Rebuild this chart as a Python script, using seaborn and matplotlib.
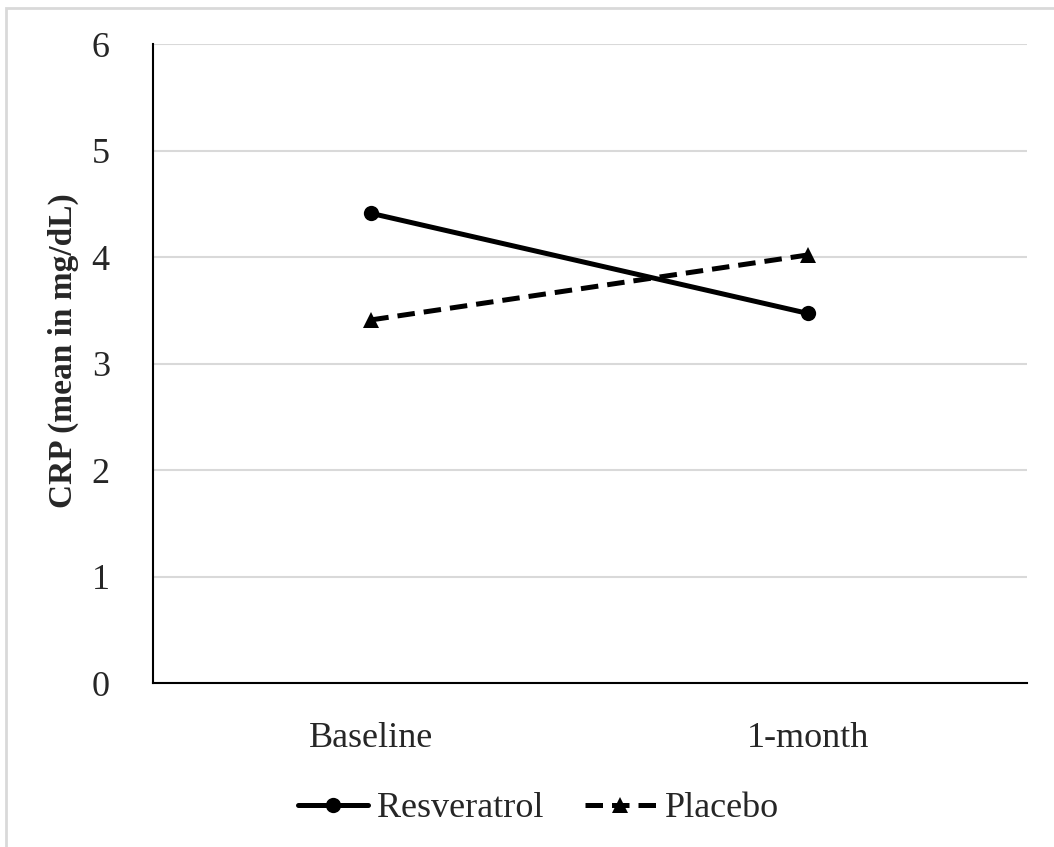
import pandas as pd
import seaborn as sns
import matplotlib.pyplot as plt
from matplotlib.patches import Rectangle

# 값
times = ['Baseline', '1-month']
groups = ['Resveratrol', 'Placebo']
resveratrol = [4.41, 3.47]
placebo = [3.41, 4.02]

df = pd.DataFrame({
    'time': times * 2,
    'group': [groups[0]] * 2 + [groups[1]] * 2,
    'crp': resveratrol + placebo,
})

sns.set_style('white')
plt.rcParams['font.family'] = ['Liberation Serif', 'DejaVu Serif']

fig = plt.figure(figsize=(10.54, 8.47), dpi=100)
ax = fig.add_axes([0.145, 0.1936, 0.829, 0.7544])

sns.lineplot(
    data=df, x='time', y='crp', hue='group', style='group',
    palette=['black', 'black'],
    markers={'Resveratrol': 'o', 'Placebo': '^'},
    dashes={'Resveratrol': '', 'Placebo': (3.5, 1.8)},
    markersize=11, linewidth=3.6, markeredgewidth=0,
    ax=ax,
)

ax.set_xlim(-0.5, 1.5)
ax.set_ylim(0, 6)
ax.set_yticks(range(0, 7))
ax.yaxis.grid(True, color='#d9d9d9', linewidth=1.5)
ax.set_axisbelow(True)
for s in ['top', 'right']:
    ax.spines[s].set_visible(False)
for s in ['left', 'bottom']:
    ax.spines[s].set_color('black')
    ax.spines[s].set_linewidth(1.5)
ax.tick_params(axis='both', length=0, labelsize=26)
ax.tick_params(axis='y', pad=31)
ax.tick_params(axis='x', pad=28)
ax.set_xlabel('')
ax.set_ylabel('CRP (mean in mg/dL)', fontsize=24, fontweight='bold')
ax.yaxis.set_label_coords(-0.085, 0.52)

leg = ax.legend(loc='upper center', bbox_to_anchor=(0.441, -0.12), ncol=2,
                frameon=False, fontsize=26, handlelength=1.95, handletextpad=0.25,
                columnspacing=1.15)

# 바깥 회색 테두리
fig.patches.append(Rectangle((6 / 1054, -0.1), 1.2, 1.1 - 8 / 847,
                             transform=fig.transFigure, fill=False,
                             edgecolor='#d9d9d9', linewidth=2))

fig.savefig('out.png', dpi=100)
